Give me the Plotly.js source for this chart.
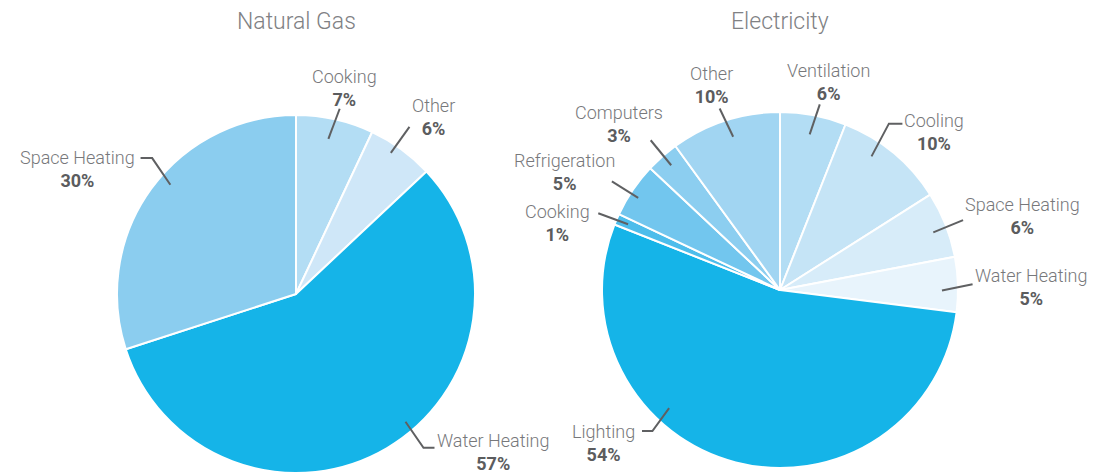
<!DOCTYPE html>
<html>
<head>
<meta charset="utf-8">
<script src="https://cdn.plot.ly/plotly-3.0.1.min.js"></script>
<style>html,body{margin:0;padding:0;background:#fff;}#chart{width:1107px;height:474px;}</style>
</head>
<body>
<div id="chart"></div>
<script>
// ---- data ----
const gasLabels = ['Cooking', 'Other', 'Water Heating', 'Space Heating'];
const gasValues = [7, 6, 57, 30];
const elecLabels = ['Ventilation', 'Cooling', 'Space Heating', 'Water Heating', 'Lighting', 'Cooking', 'Refrigeration', 'Computers', 'Other'];
const elecValues = [6, 10, 6, 5, 54, 1, 5, 3, 10];
const chartTitles = ['Natural Gas', 'Electricity'];

// ---- styles / layout config ----
const W = 1107, H = 474;
const gasColors = ['#b3ddf4', '#cfe7f8', '#15b4e8', '#8bcdef'];
const elecColors = ['#b3ddf4', '#c5e4f6', '#d7ecf9', '#e8f4fc', '#15b4e8', '#4dbdeb', '#72c6ee', '#8ccef0', '#a1d5f2'];
// leader-line / label placement (angle tweak, start radius, segment vector, horizontal tail, label offset, anchor)
const gasTips = [
  {da: -0.8, r0: 0.885, v: [11.3, -30.2], h: 0, off: [5.3, -20.5], xa: 'center'},
  {da: -2.1, r0: 0.95, v: [18.6, -26], h: 0, off: [23.7, -9.5], xa: 'center'},
  {da: -10, r0: 0.94, v: [18, 26], h: 11, off: [3, 4], xa: 'left'},
  {da: 5, r0: 0.93, v: [-18.2, -26.7], h: -11.6, off: [-6, 11.3], xa: 'right'}
];
const elecTips = [
  {da: 0, r0: 0.89, v: [10.1, -30], h: 0, off: [8.5, -22], xa: 'center'},
  {da: -5.2, r0: 0.91, v: [17.4, -32.7], h: 13.5, off: [2, 8.5], xa: 'left'},
  {da: 1, r0: 0.92, v: [29.8, -12.3], h: 0, off: [2, -4], xa: 'left'},
  {da: 2, r0: 0.91, v: [30.6, -6.4], h: 0, off: [2.5, 2.5], xa: 'left'},
  {da: 28.8, r0: 0.91, v: [-16.7, 23], h: -10.4, off: [-7, 12], xa: 'right'},
  {da: 0, r0: 0.93, v: [-29.8, -11], h: 0, off: [-8, 9.5], xa: 'right'},
  {da: -1.2, r0: 0.95, v: [-26.3, -16.6], h: 0, off: [-47.6, -8.9], xa: 'center'},
  {da: 0.3, r0: 0.93, v: [-20.5, -25], h: 0, off: [-31.8, -16.5], xa: 'center'},
  {da: 1, r0: 0.9, v: [-13.5, -28.3], h: 0, off: [-7.7, -23], xa: 'center'}
];

const pies = [
  {title: chartTitles[0], labels: gasLabels, values: gasValues, colors: gasColors, tips: gasTips, cx: 296, cy: 294, r: 179},
  {title: chartTitles[1], labels: elecLabels, values: elecValues, colors: elecColors, tips: elecTips, cx: 780, cy: 290, r: 178}
];

const FONT = 'Roboto, "Open Sans", Arial, sans-serif';
const nameColor = '#77787b';
const pctColor = '#5b5c5e';
const lineColor = '#5f6062';

const px = x => x / W;
const py = y => 1 - y / H;

const traces = [], shapes = [], annotations = [];

pies.forEach(p => {
  traces.push({
    type: 'pie',
    labels: p.labels,
    values: p.values,
    sort: false,
    direction: 'clockwise',
    rotation: 0,
    textinfo: 'none',
    hoverinfo: 'skip',
    showlegend: false,
    marker: {colors: p.colors, line: {color: '#ffffff', width: 2}},
    domain: {x: [px(p.cx - p.r), px(p.cx + p.r)], y: [py(p.cy + p.r), py(p.cy - p.r)]}
  });
  annotations.push({
    xref: 'paper', yref: 'paper', x: px(p.cx), y: py(22), xanchor: 'center', yanchor: 'middle',
    showarrow: false, text: p.title,
    font: {family: FONT, size: 23, color: '#808184', weight: 300}
  });
  const total = p.values.reduce((a, b) => a + b, 0);
  let cum = 0;
  p.values.forEach((v, i) => {
    const mid = (cum + v / 2) / total * 360;
    cum += v;
    const t = p.tips[i];
    const a = (mid + t.da) * Math.PI / 180;
    const sx = p.cx + t.r0 * p.r * Math.sin(a);
    const sy = p.cy - t.r0 * p.r * Math.cos(a);
    const bx = sx + t.v[0], by = sy + t.v[1];
    const ex = bx + t.h, ey = by;
    let path = `M ${px(sx)},${py(sy)} L ${px(bx)},${py(by)}`;
    if (t.h) path += ` L ${px(ex)},${py(ey)}`;
    shapes.push({type: 'path', xref: 'paper', yref: 'paper', path: path,
      line: {color: lineColor, width: 2}});
    annotations.push({
      xref: 'paper', yref: 'paper', x: px(ex + t.off[0]), y: py(ey + t.off[1]),
      xanchor: t.xa, yanchor: 'middle', align: 'center', showarrow: false,
      borderpad: 0, borderwidth: 0,
      text: `<span style="color:${nameColor}">${p.labels[i]}</span><br><b style="color:${pctColor}">${v}%</b>`,
      font: {family: FONT, size: 18, color: nameColor, weight: 300}
    });
  });
});

const layout = {
  width: W, height: H,
  margin: {l: 0, r: 0, t: 0, b: 0},
  paper_bgcolor: '#ffffff',
  plot_bgcolor: '#ffffff',
  showlegend: false,
  shapes: shapes,
  annotations: annotations
};

Plotly.newPlot('chart', traces, layout, {displayModeBar: false, staticPlot: true});
</script>
</body>
</html>
